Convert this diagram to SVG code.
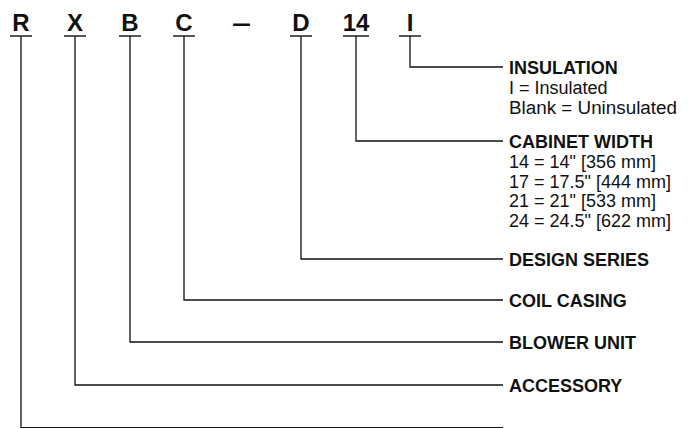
<svg xmlns="http://www.w3.org/2000/svg" width="690" height="428" viewBox="0 0 690 428">
<style>
.code{font-family:"Liberation Sans",Arial,Helvetica,sans-serif;font-weight:bold;font-size:24px;fill:#111;text-anchor:middle}
.head{font-family:"Liberation Sans",Arial,Helvetica,sans-serif;font-weight:bold;font-size:18px;fill:#111}
.body{font-family:"Liberation Sans",Arial,Helvetica,sans-serif;font-size:18px;fill:#111}
.ul{stroke:#111;stroke-width:1.4;fill:none}
.conn{stroke:#111;stroke-width:1.3;fill:none}
</style>
<rect width="690" height="428" fill="#fff"/>
<g id="code-R"><text class="code" x="21" y="30.5">R</text><line class="ul" x1="10" y1="36" x2="32" y2="36"/></g>
<g id="code-X"><text class="code" x="75" y="30.5">X</text><line class="ul" x1="64" y1="36" x2="86" y2="36"/></g>
<g id="code-B"><text class="code" x="130" y="30.5">B</text><line class="ul" x1="119" y1="36" x2="141" y2="36"/></g>
<g id="code-C"><text class="code" x="184" y="30.5">C</text><line class="ul" x1="173" y1="36" x2="195" y2="36"/></g>
<g id="code-dash"><text class="code" x="241.5" y="30.5" textLength="19" lengthAdjust="spacingAndGlyphs">–</text></g>
<g id="code-D"><text class="code" x="301" y="30.5">D</text><line class="ul" x1="290" y1="36" x2="312" y2="36"/></g>
<g id="code-14"><text class="code" x="356" y="30.5">14</text><line class="ul" x1="343" y1="36" x2="369" y2="36"/></g>
<g id="code-I"><text class="code" x="410" y="30.5">I</text><line class="ul" x1="399" y1="36" x2="421" y2="36"/></g>

<g id="connectors">
<polyline class="conn" points="410,36 410,67 503,67"/>
<polyline class="conn" points="356,36 356,141 503,141"/>
<polyline class="conn" points="301,36 301,259 503,259"/>
<polyline class="conn" points="184,36 184,300 503,300"/>
<polyline class="conn" points="130,36 130,342 503,342"/>
<polyline class="conn" points="75,36 75,385 503,385"/>
<polyline class="conn" points="21,36 21,427.6 503,427.6"/>
</g>

<g id="label-insulation">
<text class="head" x="509" y="74">INSULATION</text>
<text class="body" x="509" y="94">I = Insulated</text>
<text class="body" x="509" y="113.5" textLength="168" lengthAdjust="spacingAndGlyphs">Blank = Uninsulated</text>
</g>
<g id="label-cabinet-width">
<text class="head" x="509" y="148">CABINET WIDTH</text>
<text class="body" x="509" y="168">14 = 14" [356 mm]</text>
<text class="body" x="509" y="187.5">17 = 17.5" [444 mm]</text>
<text class="body" x="509" y="207">21 = 21" [533 mm]</text>
<text class="body" x="509" y="226.5">24 = 24.5" [622 mm]</text>
</g>
<g id="label-design-series"><text class="head" x="509" y="266">DESIGN SERIES</text></g>
<g id="label-coil-casing"><text class="head" x="509" y="307">COIL CASING</text></g>
<g id="label-blower-unit"><text class="head" x="509" y="348.5">BLOWER UNIT</text></g>
<g id="label-accessory"><text class="head" x="509" y="391.5">ACCESSORY</text></g>
</svg>
